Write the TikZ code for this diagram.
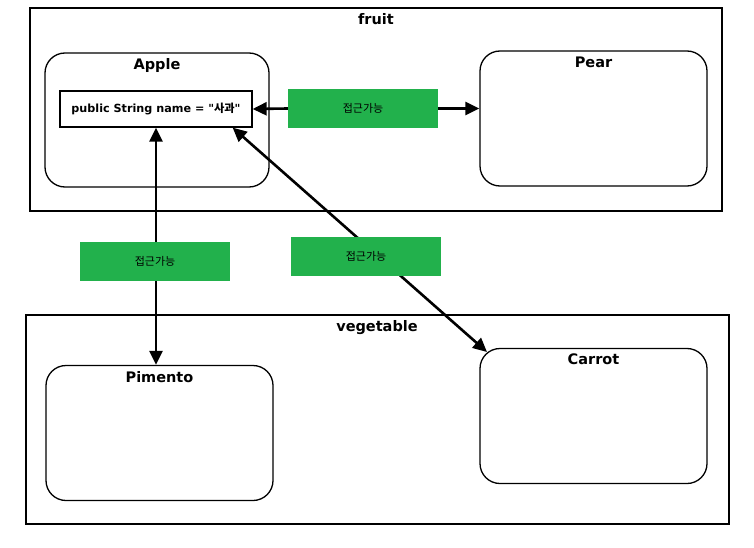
\documentclass[tikz,border=0pt]{standalone}
\usepackage{fontspec}
\setmainfont{DejaVu Sans}[Ligatures=TeXOff]
\newfontfamily\kr{Noto Sans CJK KR}
\usetikzlibrary{%
	calc,%
	arrows.meta,%
	positioning
}
\definecolor{accessgreen}{RGB}{34,177,76}

\tikzset{
	classbox/.style={draw, line width=1.3pt, rounded corners=20pt, minimum width=227pt, minimum height=135pt},
	title/.style={font=\bfseries\fontsize{14.5}{16}\selectfont, inner sep=0pt},
	access/.style={fill=accessgreen, minimum width=150pt, minimum height=39pt, font=\kr\fontsize{11}{13}\selectfont, inner sep=0pt},
	link/.style={line width=2.6pt, {Triangle[length=14pt,width=13pt]}-{Triangle[length=14pt,width=13pt]}},
	onelink/.style={line width=2.6pt, -{Triangle[length=14pt,width=13pt]}}
}

\begin{document}
\begin{tikzpicture}[x=1pt,y=-1pt]
				\useasboundingbox (0,0) rectangle (754,548);
				
				% Packages
				\draw[line width=1.3pt] (30,8) rectangle (722,211);
				\node[title] (fruit) at (376,19.5) {fruit};
				\draw[line width=1.3pt] (26,315) rectangle (729,524);
				\node[title] (vegetable) at (377,328) {vegetable};
				
				% Classes
				\node[classbox, minimum width=224pt, minimum height=134pt] (apple) at (157,120) {};
				\node[title, below=6pt of apple.north] {Apple};
				\node[classbox] (pear) at (593.5,118.5) {};
				\node[title, below=6pt of pear.north] {Pear};
				\node[classbox] (pimento) at (159.5,433) {};
				\node[title, below=6pt of pimento.north] {Pimento};
				\node[classbox] (carrot) at (593.5,416) {};
				\node[title, below=6pt of carrot.north] {Carrot};
				
				% Field
				\node[draw, line width=1.3pt, minimum width=192pt, minimum height=36pt, font=\bfseries\fontsize{11.2}{13}\selectfont] (attr) at (156,109) {public String name = "{\kr 사과}"};
				
				% Connectors
				\coordinate (diagstart) at ($(attr.south east)+(-20,0)$);
				\coordinate (diagend) at (487,352);
				\node[access] (acc1) at (363,108.5) {접근가능};
				\draw[onelink] (acc1.west) -- (attr.east);
				\draw[onelink] (acc1.east) -- (acc1.east -| pear.west);
				\draw[link] (attr.south) -- (attr.south |- pimento.north);
				\node[access] (acc2) at (155,261.5) {접근가능};
				\draw[link] (diagstart) -- (diagend);
				\node[access] (acc3) at (366,256.5) {접근가능};
			\end{tikzpicture}
\end{document}
